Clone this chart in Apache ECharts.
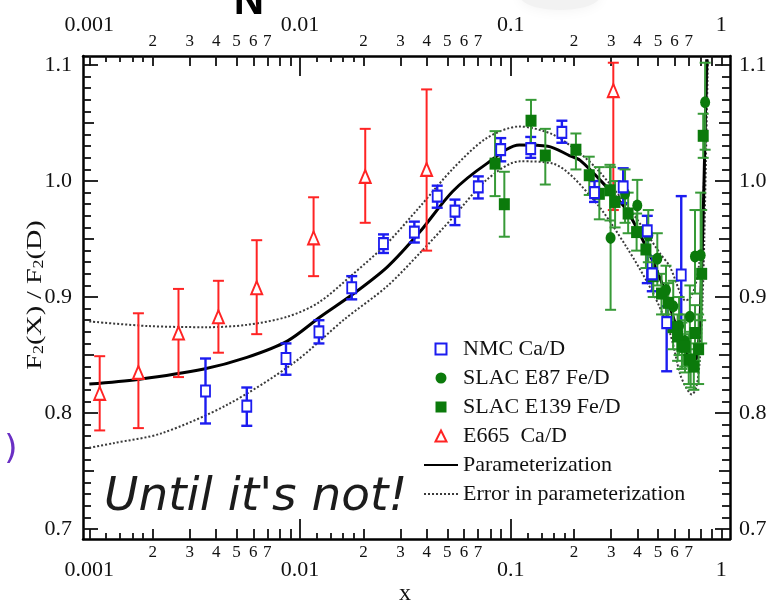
<!DOCTYPE html>
<html>
<head>
<meta charset="utf-8">
<script src="https://cdn.jsdelivr.net/npm/echarts@6/dist/echarts.min.js"></script>
<style>
  html, body { margin: 0; padding: 0; background: #fff; }
  #chart { width: 768px; height: 605px; }
</style>
</head>
<body>
<div id="chart"></div>
<script>
// values (x is Bjorken x, y is F2(X)/F2(D))
const xMajorLabels = ['0.001', '0.01', '0.1', '1']
const xMinorLabels = ['2', '3', '4', '5', '6', '7']
const yLabels = ['0.7', '0.8', '0.9', '1.0', '1.1']

const paramX = [0.001, 0.0017, 0.0035, 0.0056, 0.0087, 0.0125, 0.018, 0.026, 0.037, 0.053, 0.077, 0.11, 0.15, 0.19, 0.213, 0.275, 0.355, 0.44, 0.53, 0.61, 0.68, 0.72, 0.745, 0.77, 0.79, 0.808, 0.825, 0.838, 0.852]
const paramY = [0.825, 0.829, 0.838, 0.848, 0.862, 0.883, 0.903, 0.926, 0.956, 0.991, 1.015, 1.031, 1.030, 1.022, 1.018, 0.998, 0.975, 0.943, 0.909, 0.875, 0.852, 0.844, 0.843, 0.852, 0.876, 0.930, 0.990, 1.047, 1.105]

const errUpX = [0.001, 0.0019, 0.0036, 0.0056, 0.0087, 0.0122, 0.0179, 0.0258, 0.0371, 0.0534, 0.0769, 0.11, 0.159, 0.213, 0.264, 0.38, 0.51, 0.57, 0.64, 0.675, 0.71, 0.75, 0.78, 0.806, 0.83, 0.845, 0.86]
const errUpY = [0.879, 0.875, 0.874, 0.876, 0.883, 0.895, 0.920, 0.946, 0.978, 1.011, 1.037, 1.047, 1.040, 1.024, 1.008, 0.972, 0.938, 0.926, 0.903, 0.897, 0.899, 0.909, 0.925, 0.950, 1.010, 1.060, 1.105]

const errLoX = [0.001, 0.0013, 0.0022, 0.0045, 0.0093, 0.0163, 0.0258, 0.0371, 0.0534, 0.0769, 0.1107, 0.159, 0.247, 0.355, 0.475, 0.57, 0.636, 0.68, 0.724, 0.76, 0.79, 0.815, 0.83, 0.845, 0.86, 0.865]
const errLoY = [0.770, 0.774, 0.7825, 0.807, 0.843, 0.881, 0.909, 0.938, 0.969, 1.001, 1.017, 1.015, 0.984, 0.943, 0.903, 0.869, 0.834, 0.822, 0.816, 0.822, 0.846, 0.900, 0.950, 1.020, 1.090, 1.105]

const nmcX = [0.00356, 0.00559, 0.00858, 0.0123, 0.0176, 0.0249, 0.0349, 0.0448, 0.0544, 0.0702, 0.0897, 0.1245, 0.175, 0.25, 0.342, 0.445, 0.47, 0.55, 0.645]
const nmcY = [0.819, 0.806, 0.847, 0.870, 0.908, 0.946, 0.956, 0.987, 0.974, 0.995, 1.027, 1.028, 1.042, 0.990, 0.995, 0.957, 0.920, 0.878, 0.919]
const nmcLo = [0.791, 0.789, 0.833, 0.860, 0.898, 0.938, 0.947, 0.977, 0.962, 0.985, 1.017, 1.020, 1.033, 0.982, 0.981, 0.912, 0.905, 0.836, 0.863]
const nmcHi = [0.847, 0.822, 0.860, 0.880, 0.918, 0.954, 0.965, 0.996, 0.984, 1.004, 1.037, 1.038, 1.052, 1.000, 1.011, 0.970, 0.935, 0.892, 0.987]

const e87X = [0.298, 0.349, 0.399, 0.45, 0.4965, 0.546, 0.591, 0.63, 0.67, 0.7088, 0.7495, 0.7975, 0.8375]
const e87Y = [0.951, 0.989, 0.979, 0.953, 0.933, 0.906, 0.892, 0.875, 0.862, 0.883, 0.935, 0.936, 1.068]
const e87Lo = [0.889, 0.964, 0.955, 0.930, 0.910, 0.885, 0.870, 0.850, 0.840, 0.855, 0.903, 0.880, 1.027]
const e87Hi = [1.012, 1.010, 1.001, 0.975, 0.955, 0.927, 0.914, 0.900, 0.885, 0.910, 0.975, 0.990, 1.102]

const e139X = [0.0843, 0.0933, 0.1249, 0.146, 0.204, 0.236, 0.2635, 0.296, 0.313, 0.361, 0.396, 0.4385, 0.475, 0.52, 0.56, 0.59, 0.62, 0.65, 0.672, 0.70, 0.715, 0.74, 0.75, 0.78, 0.8065, 0.82]
const e139Y = [1.015, 0.980, 1.052, 1.022, 1.027, 1.005, 0.989, 0.992, 0.982, 0.972, 0.956, 0.941, 0.918, 0.903, 0.895, 0.874, 0.866, 0.858, 0.857, 0.846, 0.846, 0.840, 0.869, 0.855, 0.920, 1.039]
const e139Lo = [0.987, 0.952, 1.032, 0.997, 1.010, 0.988, 0.967, 0.966, 0.960, 0.955, 0.940, 0.925, 0.900, 0.885, 0.877, 0.855, 0.845, 0.838, 0.835, 0.825, 0.822, 0.820, 0.845, 0.825, 0.860, 1.020]
const e139Hi = [1.043, 1.008, 1.070, 1.045, 1.041, 1.021, 1.012, 1.014, 1.000, 0.990, 0.972, 0.957, 0.935, 0.920, 0.912, 0.893, 0.885, 0.878, 0.880, 0.868, 0.870, 0.860, 0.893, 0.885, 0.975, 1.058]

const e665X = [0.00112, 0.00171, 0.00265, 0.0041, 0.00623, 0.0116, 0.0204, 0.0399, 0.307]
const e665Y = [0.817, 0.835, 0.869, 0.883, 0.908, 0.951, 1.004, 1.010, 1.078]
const e665Lo = [0.785, 0.787, 0.831, 0.852, 0.868, 0.918, 0.964, 0.940, 0.975]
const e665Hi = [0.849, 0.886, 0.907, 0.914, 0.949, 0.986, 1.045, 1.079, 1.102]

const BLUE = '#1c1cf0'
const RED = '#ff2424'
const GREEN = '#0b7a0b'
const GREEN_BAR = '#379a37'
const SERIF = '"Liberation Serif", "DejaVu Serif", serif'
const NONE = 'rgba(0,0,0,0)'
const SQUARE = 'path://M0,0L10,0L10,10L0,10Z'
const TRIANGLE = 'path://M5,0L10,10L0,10Z'

const lg = (v) => Math.log10(v)

// frame is a little wider than the labelled range, like the original plot
const X_MIN = -3.03
const X_MAX = 0.041
const Y_MIN = 0.6914
const Y_MAX = 1.1078

const decades = [-3, -2, -1]
const xLongTicks = [-2, -1]
const xMidTicks = decades.flatMap((d) => [2, 3, 4, 5, 6, 7, 8, 9].map((k) => d + lg(k))).concat([-3, 0])
const xFineTicks = decades.flatMap((d) => [1.2, 1.4, 1.6, 1.8].map((k) => d + lg(k)))
const xMajorVals = xMajorLabels.map((s) => lg(parseFloat(s)))
const xMinorVals = decades.flatMap((d) => xMinorLabels.map((k) => d + lg(+k)))

const yMajorVals = yLabels.map(Number)
const yMidVals = [0.75, 0.85, 0.95, 1.05]
const yFineVals = []
for (let i = 70; i <= 110; i++) {
  if (i % 5) yFineVals.push(i / 100)
}

function minorLabel (v) {
  return String(Math.round(Math.pow(10, v - Math.floor(v + 1e-9))))
}

function xAxisDef (position, ticks, len, label, showLine) {
  return {
    type: 'value',
    position,
    min: X_MIN,
    max: X_MAX,
    axisLine: { show: showLine, onZero: false, lineStyle: { color: '#000', width: 2.5 } },
    axisTick: { show: true, inside: true, length: len, customValues: ticks, lineStyle: { color: '#111', width: 1.8 } },
    axisLabel: label || { show: false },
    splitLine: { show: false }
  }
}

function yAxisDef (position, ticks, len, label, showLine) {
  return {
    type: 'value',
    position,
    min: Y_MIN,
    max: Y_MAX,
    axisLine: { show: showLine, onZero: false, lineStyle: { color: '#000', width: 2.5 } },
    axisTick: { show: true, inside: true, length: len, customValues: ticks, lineStyle: { color: '#111', width: 1.8 } },
    axisLabel: label || { show: false },
    splitLine: { show: false }
  }
}

const xMajorLabel = (margin) => ({
  show: true,
  customValues: xMajorVals,
  formatter: (v) => xMajorLabels[Math.round(v) + 3],
  margin,
  fontSize: 22,
  fontFamily: SERIF,
  color: '#111'
})
const xMinorLabel = (margin) => ({
  show: true,
  customValues: xMinorVals,
  formatter: minorLabel,
  margin,
  fontSize: 17,
  fontFamily: SERIF,
  color: '#111'
})
const yLabel = (margin) => ({
  show: true,
  customValues: yMajorVals,
  formatter: (v) => v.toFixed(1),
  margin,
  fontSize: 22,
  fontFamily: SERIF,
  color: '#111'
})

function points (xs, ys) {
  return xs.map((x, i) => [lg(x), ys[i]])
}

function errorBars (name, xs, lo, hi, color, width) {
  return {
    type: 'custom',
    name,
    z: 3,
    silent: true,
    data: xs.map((x, i) => [lg(x), lo[i], hi[i]]),
    encode: { x: 0, y: [1, 2] },
    renderItem (params, api) {
      const top = api.coord([api.value(0), api.value(2)])
      const bot = api.coord([api.value(0), api.value(1)])
      const cap = 5.5
      const seg = (x1, y1, x2, y2) => ({
        type: 'line',
        shape: { x1, y1, x2, y2 },
        style: { stroke: color, lineWidth: width }
      })
      return {
        type: 'group',
        children: [
          seg(top[0], top[1], bot[0], bot[1]),
          seg(top[0] - cap, top[1], top[0] + cap, top[1]),
          seg(bot[0] - cap, bot[1], bot[0] + cap, bot[1])
        ]
      }
    }
  }
}

const chart = echarts.init(document.getElementById('chart'), null, { renderer: 'canvas' })

const option = {
  animation: false,
  backgroundColor: '#fff',
  grid: { left: 83, right: 38, top: 56, bottom: 66, containLabel: false, outerBoundsMode: 'none' },
  xAxis: [
    xAxisDef('bottom', xLongTicks, 20, xMajorLabel(20), true),
    xAxisDef('bottom', xMidTicks, 10, xMinorLabel(5), false),
    xAxisDef('bottom', xFineTicks, 6, null, false),
    xAxisDef('top', xLongTicks, 20, xMajorLabel(20), true),
    xAxisDef('top', xMidTicks, 10, xMinorLabel(6), false),
    xAxisDef('top', xFineTicks, 6, null, false)
  ],
  yAxis: [
    yAxisDef('left', yMajorVals, 15, yLabel(11), true),
    yAxisDef('left', yMidVals, 11, null, false),
    yAxisDef('left', yFineVals, 8, null, false),
    yAxisDef('right', yMajorVals, 15, yLabel(9), true),
    yAxisDef('right', yMidVals, 11, null, false),
    yAxisDef('right', yFineVals, 8, null, false)
  ],
  legend: {
    orient: 'vertical',
    left: 423,
    top: 338,
    padding: 0,
    itemGap: 7,
    itemWidth: 34,
    itemHeight: 11,
    symbolKeepAspect: true,
    selectedMode: false,
    textStyle: { fontFamily: SERIF, fontSize: 22, color: '#111', lineHeight: 22 },
    data: [
      { name: 'NMC Ca/D', icon: SQUARE },
      { name: 'SLAC E87 Fe/D', icon: 'circle' },
      { name: 'SLAC E139 Fe/D', icon: SQUARE },
      { name: 'E665  Ca/D', icon: TRIANGLE },
      'Parameterization',
      'Error in parameterization'
    ]
  },
  series: [
    {
      type: 'line',
      name: 'Error in parameterization',
      data: points(errUpX, errUpY),
      symbol: 'none',
      smooth: 0.3,
      z: 2,
      itemStyle: { color: NONE, borderColor: NONE },
      lineStyle: { color: '#3a3a3a', width: 2, type: [2, 2] }
    },
    {
      type: 'line',
      name: 'Error in parameterization',
      data: points(errLoX, errLoY),
      symbol: 'none',
      smooth: 0.3,
      z: 2,
      itemStyle: { color: NONE, borderColor: NONE },
      lineStyle: { color: '#3a3a3a', width: 2, type: [2, 2] }
    },
    {
      type: 'line',
      name: 'Parameterization',
      data: points(paramX, paramY),
      symbol: 'none',
      smooth: 0.3,
      z: 2,
      itemStyle: { color: NONE, borderColor: NONE },
      lineStyle: { color: '#000', width: 3 }
    },
    errorBars('e665-err', e665X, e665Lo, e665Hi, RED, 2),
    errorBars('nmc-err', nmcX, nmcLo, nmcHi, BLUE, 2.4),
    errorBars('e87-err', e87X, e87Lo, e87Hi, GREEN_BAR, 2),
    errorBars('e139-err', e139X, e139Lo, e139Hi, GREEN_BAR, 2),
    {
      type: 'scatter',
      name: 'SLAC E87 Fe/D',
      symbol: 'circle',
      symbolSize: [10, 12],
      z: 5,
      itemStyle: { color: GREEN, opacity: 1 },
      data: points(e87X, e87Y)
    },
    {
      type: 'scatter',
      name: 'SLAC E139 Fe/D',
      symbol: 'rect',
      symbolSize: [11, 12],
      z: 5,
      itemStyle: { color: GREEN, opacity: 1 },
      data: points(e139X, e139Y)
    },
    {
      type: 'scatter',
      name: 'NMC Ca/D',
      symbol: 'rect',
      symbolSize: [9, 11],
      z: 6,
      itemStyle: { color: '#fff', borderColor: BLUE, borderWidth: 2, opacity: 1 },
      data: points(nmcX, nmcY)
    },
    {
      type: 'scatter',
      name: 'E665  Ca/D',
      symbol: 'triangle',
      symbolSize: [11, 13],
      z: 6,
      itemStyle: { color: '#fff', borderColor: RED, borderWidth: 2, opacity: 1 },
      data: points(e665X, e665Y)
    }
  ],
  graphic: [
    {
      type: 'ellipse',
      shape: { cx: 560, cy: -4, rx: 40, ry: 14 },
      style: { fill: '#f2f2f2', shadowBlur: 14, shadowColor: '#f2f2f2' },
      silent: true
    },
    {
      type: 'text',
      x: 249,
      y: 2,
      style: { text: 'N', fontSize: 42, fontWeight: 'bold', fontFamily: '"Liberation Sans", Arial, sans-serif', fill: '#000', align: 'center', verticalAlign: 'middle' }
    },
    {
      type: 'text',
      x: 11,
      y: 450,
      style: { text: ')', fontSize: 34, fontFamily: '"DejaVu Sans", sans-serif', fill: '#6a2fc4', align: 'center', verticalAlign: 'middle' }
    },
    {
      type: 'text',
      x: 104,
      y: 498,
      z: 10,
      style: { text: "Until it's not!", fontSize: 47, fontStyle: 'italic', fontFamily: '"DejaVu Sans", sans-serif', fill: '#1c1c1c', align: 'left', verticalAlign: 'middle' }
    },
    {
      type: 'text',
      x: 35,
      y: 295,
      rotation: Math.PI / 2,
      scaleX: 1.28,
      style: {
        text: 'F{s|2}(X) / F{s|2}(D)',
        fontSize: 22,
        fontFamily: SERIF,
        fill: '#111',
        align: 'center',
        verticalAlign: 'middle',
        rich: { s: { fontSize: 14, fontFamily: SERIF, fill: '#111', verticalAlign: 'bottom', padding: [8, 0, 0, 0] } }
      }
    },
    {
      type: 'text',
      x: 405,
      y: 594,
      style: { text: 'x', fontSize: 24, fontFamily: SERIF, fill: '#111', align: 'center', verticalAlign: 'middle' }
    }
  ]
}

chart.setOption(option)
</script>
</body>
</html>
